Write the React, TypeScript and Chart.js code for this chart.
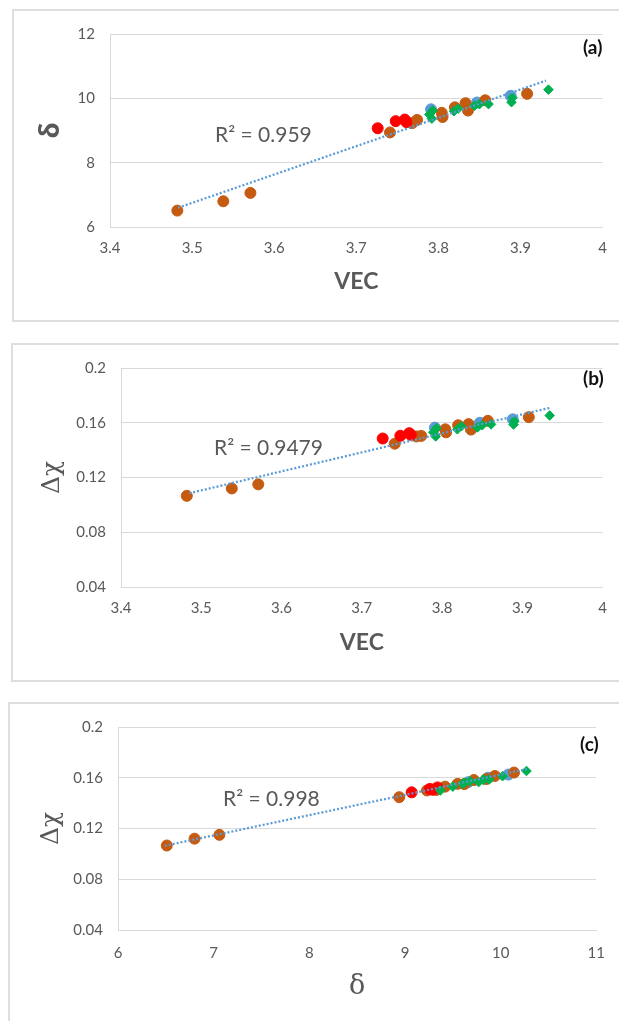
import React, { useEffect, useRef } from "react";
import { Chart, registerables } from "chart.js";

Chart.register(...registerables);

// ---- Data: each material has VEC, δ and Δχ; grouped by marker colour ----
const brownVEC = [3.482, 3.538, 3.571, 3.741, 3.768, 3.774, 3.804, 3.805, 3.820, 3.833, 3.836, 3.857, 3.908];
const brownDelta = [6.51, 6.80, 7.06, 8.94, 9.23, 9.33, 9.55, 9.42, 9.72, 9.85, 9.62, 9.94, 10.14];
const brownDchi = [0.1066, 0.112, 0.115, 0.1447, 0.1500, 0.1504, 0.1552, 0.1530, 0.1582, 0.1590, 0.1550, 0.1614, 0.1641];

const redVEC = [3.726, 3.748, 3.759, 3.761];
const redDelta = [9.07, 9.29, 9.34, 9.26];
const redDchi = [0.1485, 0.1505, 0.1524, 0.1512];

const greenVEC = [3.792, 3.789, 3.793, 3.819, 3.824, 3.844, 3.850, 3.861, 3.889, 3.890, 3.934];
const greenDelta = [9.37, 9.50, 9.62, 9.60, 9.68, 9.77, 9.82, 9.82, 9.88, 10.02, 10.27];
const greenDchi = [0.1500, 0.1530, 0.1560, 0.1552, 0.1574, 0.1566, 0.1582, 0.1588, 0.1587, 0.1612, 0.1653];

const blueVEC = [3.791, 3.847, 3.888];
const blueDelta = [9.66, 9.87, 10.08];
const blueDchi = [0.1565, 0.1600, 0.1625];

// Linear trend lines (end points)
const trendAX = [3.483, 3.931];
const trendAY = [6.60, 10.55];
const trendBX = [3.485, 3.935];
const trendBY = [0.1085, 0.171];
const trendCX = [6.49, 10.28];
const trendCY = [0.1064, 0.167];

// Tick labels
const vecTicks = [3.4, 3.5, 3.6, 3.7, 3.8, 3.9, 4];
const deltaYTicks = [6, 8, 10, 12];
const dchiTicks = [0.04, 0.08, 0.12, 0.16, 0.2];
const deltaXTicks = [6, 7, 8, 9, 10, 11];

const r2Labels = ["R\u00B2 = 0.959", "R\u00B2 = 0.9479", "R\u00B2 = 0.998"];
const panelTags = ["(a)", "(b)", "(c)"];

const C_BROWN = "#C55A11";
const C_RED = "#FF0000";
const C_GREEN = "#00B050";
const C_BLUE = "#5B9BD5";
const GRID = "#d9d9d9";
const TXT = "#595959";

const pts = (xs: number[], ys: number[]) => xs.map((x, i) => ({ x, y: ys[i] }));
const fmt = (v: number) => String(parseFloat(Number(v).toFixed(3)));

type PanelCfg = {
  left: number; top: number; w: number; h: number;
  yWidth: number; xHeight: number; padTop: number; padRight: number;
  xTicks: number[]; yTicks: number[];
  xs: number[][]; ys: number[][]; trendX: number[]; trendY: number[];
  xTitle: string; xTitleFont: any; xTitleOffset: number;
  yTitle: string; yTitleFont: any; yTitleOffset: number;
  xPad: number;
};

function ScatterPanel({ cfg }: { cfg: PanelCfg }) {
  const ref = useRef<HTMLCanvasElement>(null);
  useEffect(() => {
    const circle = (color: string) => ({
      pointStyle: "circle", pointRadius: 5.5, pointBorderWidth: 1,
      backgroundColor: color, borderColor: color,
    });
    const [gx, rx, bx, blx] = cfg.xs;
    const [gy, ry, by, bly] = cfg.ys;
    const xLH = cfg.xTitleFont.size * 1.2;
    const yLH = cfg.yTitleFont.size * 1.2;
    const chart = new Chart(ref.current!, {
      type: "scatter",
      data: {
        datasets: [
          {
            data: pts(cfg.trendX, cfg.trendY), showLine: true, pointRadius: 0,
            borderColor: C_BLUE, borderWidth: 2.25, borderDash: [2, 2], fill: false,
          } as any,
          {
            data: pts(gx, gy), pointStyle: "rectRot", pointRadius: 4.8, pointBorderWidth: 1,
            backgroundColor: C_GREEN, borderColor: C_GREEN,
          },
          { data: pts(rx, ry), ...circle(C_RED) },
          { data: pts(bx, by), ...circle(C_BROWN) },
          { data: pts(blx, bly), ...circle(C_BLUE) },
        ],
      },
      options: {
        responsive: false,
        animation: false,
        events: [],
        layout: { padding: { left: 0, top: cfg.padTop, right: cfg.padRight, bottom: 0 } },
        plugins: { legend: { display: false }, tooltip: { enabled: false } },
        scales: {
          x: {
            type: "linear",
            min: cfg.xTicks[0], max: cfg.xTicks[cfg.xTicks.length - 1],
            afterBuildTicks: (s: any) => { s.ticks = cfg.xTicks.map((v) => ({ value: v })); },
            afterFit: (s: any) => { s.height = cfg.xHeight; },
            grid: { display: false, drawTicks: false },
            border: { display: true, color: GRID, width: 1 },
            ticks: {
              padding: cfg.xPad, color: TXT, font: { family: "Lato", size: 15 },
              callback: (v: any) => fmt(v), maxRotation: 0, autoSkip: false,
            },
            title: {
              display: true, text: cfg.xTitle, color: TXT, font: cfg.xTitleFont,
              padding: { top: 0, bottom: cfg.xTitleOffset - xLH / 2 },
            },
          },
          y: {
            type: "linear",
            min: cfg.yTicks[0], max: cfg.yTicks[cfg.yTicks.length - 1],
            afterBuildTicks: (s: any) => { s.ticks = cfg.yTicks.map((v) => ({ value: v })); },
            afterFit: (s: any) => { s.width = cfg.yWidth; },
            grid: { color: GRID, lineWidth: 1, drawTicks: false },
            border: { display: true, color: GRID, width: 1 },
            ticks: {
              padding: 15, color: TXT, font: { family: "Lato", size: 15 },
              callback: (v: any) => fmt(v), autoSkip: false,
            },
            title: {
              display: true, text: cfg.yTitle, color: TXT, font: cfg.yTitleFont,
              padding: { top: cfg.yTitleOffset - yLH / 2, bottom: 0 },
            },
          },
        },
      } as any,
    });
    return () => chart.destroy();
  }, []);
  return (
    <canvas
      ref={ref}
      width={cfg.w}
      height={cfg.h}
      style={{ position: "absolute", left: cfg.left, top: cfg.top, width: cfg.w, height: cfg.h, display: "block" }}
    />
  );
}

const serifFont = { family: "'DejaVu Serif', 'Liberation Serif', serif", size: 25 };
const vecFont = { family: "Lato", size: 23, weight: "bold" };

const panels: PanelCfg[] = [
  {
    left: 13, top: 10, w: 606, h: 311, yWidth: 97, xHeight: 94, padTop: 17, padRight: 15,
    xTicks: vecTicks, yTicks: deltaYTicks,
    xs: [greenVEC, redVEC, brownVEC, blueVEC], ys: [greenDelta, redDelta, brownDelta, blueDelta],
    trendX: trendAX, trendY: trendAY,
    xTitle: "VEC", xTitleFont: vecFont, xTitleOffset: 39,
    yTitle: "δ", yTitleFont: { family: "'Open Sans', 'DejaVu Sans'", size: 26, weight: "bold" }, yTitleOffset: 39,
    xPad: 12,
  },
  {
    left: 12, top: 344, w: 607, h: 337, yWidth: 109, xHeight: 94, padTop: 17, padRight: 15,
    xTicks: vecTicks, yTicks: dchiTicks,
    xs: [greenVEC, redVEC, brownVEC, blueVEC], ys: [greenDchi, redDchi, brownDchi, blueDchi],
    trendX: trendBX, trendY: trendBY,
    xTitle: "VEC", xTitleFont: vecFont, xTitleOffset: 38,
    yTitle: "Δχ", yTitleFont: serifFont, yTitleOffset: 40,
    xPad: 12,
  },
  {
    left: 10, top: 703, w: 609, h: 318, yWidth: 108, xHeight: 91, padTop: 17, padRight: 17,
    xTicks: deltaXTicks, yTicks: dchiTicks,
    xs: [greenDelta, redDelta, brownDelta, blueDelta], ys: [greenDchi, redDchi, brownDchi, blueDchi],
    trendX: trendCX, trendY: trendCY,
    xTitle: "δ", xTitleFont: { ...serifFont, size: 27 }, xTitleOffset: 34,
    yTitle: "Δχ", yTitleFont: serifFont, yTitleOffset: 41,
    xPad: 14,
  },
];

const borders = [
  { left: 12, top: 9, width: 607, height: 313, bottom: true },
  { left: 11, top: 343, width: 608, height: 339, bottom: true },
  { left: 8, top: 702, width: 611, height: 319, bottom: false },
];

const r2Pos = [
  { left: 215, cy: 134 },
  { left: 214, cy: 447 },
  { left: 223, cy: 798 },
];
const tagPos = [
  { left: 583, cy: 47 },
  { left: 583, cy: 378 },
  { left: 580, cy: 744 },
];

export default function App() {
  return (
    <div style={{ position: "absolute", left: 0, top: 0, width: 619, height: 1021, overflow: "hidden", background: "#fff" }}>
      {borders.map((b, i) => (
        <div
          key={"b" + i}
          style={{
            position: "absolute", left: b.left, top: b.top, width: b.width, height: b.height,
            boxSizing: "border-box", borderTop: "2px solid #dedede", borderLeft: "2px solid #dedede",
            borderBottom: b.bottom ? "2px solid #dedede" : "none",
          }}
        />
      ))}
      {panels.map((p, i) => (
        <ScatterPanel key={i} cfg={p} />
      ))}
      {r2Labels.map((t, i) => (
        <div
          key={"r" + i}
          style={{
            position: "absolute", left: r2Pos[i].left, top: r2Pos[i].cy - 12, height: 24, lineHeight: "24px",
            fontFamily: "Lato", fontSize: 21, color: TXT, whiteSpace: "nowrap",
          }}
        >
          {t}
        </div>
      ))}
      {panelTags.map((t, i) => (
        <div
          key={"t" + i}
          style={{
            position: "absolute", left: tagPos[i].left, top: tagPos[i].cy - 11, height: 22, lineHeight: "22px",
            fontFamily: "Lato", fontWeight: "bold", fontSize: 19, color: "#111", whiteSpace: "nowrap",
          }}
        >
          {t}
        </div>
      ))}
    </div>
  );
}
